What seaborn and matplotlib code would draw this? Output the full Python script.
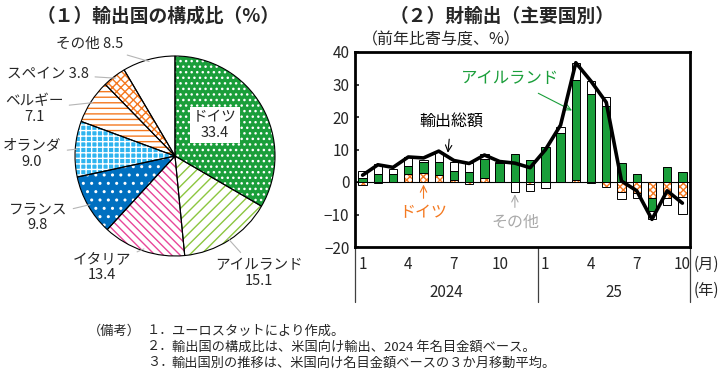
import numpy as np
import pandas as pd
import matplotlib
matplotlib.use('Agg')
import matplotlib.pyplot as plt
import seaborn as sns

sns.set_theme(style='white')
plt.rcParams['font.family'] = ['Noto Sans CJK JP', 'DejaVu Sans']
plt.rcParams['hatch.linewidth'] = 1.0

# (1) pie: share of exports to US by country, 2024
countries = ['ドイツ', 'アイルランド', 'イタリア', 'フランス', 'オランダ', 'ベルギー', 'スペイン', 'その他']
shares = [33.4, 15.1, 13.4, 9.8, 9.0, 7.1, 3.8, 8.5]

# (2) bars: contribution to y/y export growth, 2024/1 - 2025/10
months = [1, 2, 3, 4, 5, 6, 7, 8, 9, 10, 11, 12, 1, 2, 3, 4, 5, 6, 7, 8, 9, 10]
years = ['2024'] * 12 + ['25'] * 10
germany = [-1.0, -0.3, 0.0, 2.5, 2.8, 2.2, 0.5, -0.5, 1.3, 0.0, 0.0, -0.5,
           0.0, 0.0, 0.5, -0.3, -1.5, -3.2, -3.5, -5.0, -5.0, -4.5]
ireland = [1.3, 2.6, 2.6, 2.3, 3.4, 4.0, 2.9, 3.0, 5.8, 6.0, 8.6, 6.9,
           10.7, 15.0, 30.9, 27.1, 23.3, 5.9, 2.4, -4.0, 4.6, 3.0]
others = [2.0, 2.9, 1.5, 3.0, 0.7, 3.0, 2.8, 2.8, 1.4, 0.3, -3.2, -2.4,
          -1.8, 2.0, 5.3, 4.0, 3.0, -2.0, -1.3, -2.5, -2.2, -5.2]
total = [2.1, 5.3, 4.5, 7.7, 7.4, 9.5, 6.6, 5.7, 8.3, 6.3, 5.8, 4.4,
         9.9, 17.5, 36.7, 31.0, 24.5, 0.3, -2.7, -11.5, -2.7, -6.5]

notes = ['ユーロスタットにより作成。',
         '輸出国の構成比は、米国向け輸出、2024 年名目金額ベース。',
         '輸出国別の推移は、米国向け名目金額ベースの３か月移動平均。']

green = '#1a9e3a'
orange = '#f47920'

fig = plt.figure(figsize=(7.25, 3.75), dpi=100)

# ---------------- pie ----------------
axp = fig.add_axes([73/725, 1-258/375, 204/725, 204/375])
pie_faces = [green, 'white', 'white', '#0070c0', '#2fb4ef', 'white', 'white', 'white']
pie_hatches = ['...', '///', '\\\\\\\\', '..', '+++', '---', 'xxxx', '']
pie_hcolors = ['white', '#8cc63f', '#e8479a', 'white', 'white', orange, orange, 'white']

wedges, _ = axp.pie(shares, startangle=90, counterclock=False, radius=1,
                    colors=pie_faces, wedgeprops=dict(linewidth=0))
for w, h, hc in zip(wedges, pie_hatches, pie_hcolors):
    w.set_hatch(h)
    w.set_edgecolor(hc)
axp.pie(shares, startangle=90, counterclock=False, radius=1,
        wedgeprops=dict(fill=False, edgecolor='black', linewidth=0.8))
axp.set_xlim(-1.02, 1.02)
axp.set_ylim(-1.02, 1.02)
axp.set_aspect('equal')
axp.axis('off')

# label positions (text) for each wedge
label_pos = [(0.40, 0.31, 'center'), (0.84, -1.17, 'center'), (-0.73, -1.11, 'center'),
             (-1.37, -0.61, 'center'), (-1.43, 0.02, 'center'), (-1.41, 0.47, 'center'),
             (-0.86, 0.82, 'right'), (-0.52, 1.12, 'right')]
for i, (w, name, val) in enumerate(zip(wedges, countries, shares)):
    tx, ty, ha = label_pos[i]
    if i == 0:
        axp.text(tx, ty, f'{name}\n{val}', ha='center', va='center', fontsize=10.5,
                 linespacing=1.2, bbox=dict(facecolor='white', edgecolor='none', pad=2))
        continue
    ang = np.deg2rad((w.theta1 + w.theta2) / 2)
    xy = (0.98*np.cos(ang), 0.98*np.sin(ang))
    txt = f'{name} {val}' if ha == 'right' else f'{name}\n{val}'
    axp.annotate(txt, xy=xy, xytext=(tx, ty), ha=ha, va='center', fontsize=10.5,
                 linespacing=1.2, annotation_clip=False,
                 arrowprops=dict(arrowstyle='-', color='#b5b5b5', lw=0.8,
                                 shrinkA=2, shrinkB=0))

fig.text(158/725, 1-16/375, '（１）輸出国の構成比（%）', ha='center', va='center',
         fontsize=13.5, fontweight='bold')

# ---------------- bars ----------------
ax = fig.add_axes([355/725, 1-247/375, 335/725, 195/375])
x = np.arange(len(months))
pos_base = np.zeros(len(x))
neg_base = np.zeros(len(x))
series = [(germany, 'white', 'xxxxx', orange),
          (ireland, green, '', green),
          (others, 'white', '', 'white')]
for vals, face, hatch, hc in series:
    vals = np.array(vals)
    bottom = np.where(vals >= 0, pos_base, neg_base)
    ax.bar(x, vals, bottom=bottom, width=0.55, color=face, hatch=hatch,
           edgecolor=hc, linewidth=0, zorder=2)
    ax.bar(x, vals, bottom=bottom, width=0.55, fill=False, edgecolor='black',
           linewidth=0.7, zorder=3)
    pos_base += np.where(vals >= 0, vals, 0)
    neg_base += np.where(vals < 0, vals, 0)

df = pd.DataFrame({'x': x, 'total': total})
sns.lineplot(data=df, x='x', y='total', color='black', linewidth=2.6, ax=ax, zorder=4)
ax.axhline(0, color='black', linewidth=0.8, zorder=1)

ax.set_xlim(-0.5, len(x) - 0.5)
ax.set_ylim(-20, 40)
ax.set_yticks(range(-20, 41, 10))
ax.tick_params(axis='y', direction='in', length=3, labelsize=11, pad=4, left=True)
ax.set_xticks([])
ax.set_xlabel('')
ax.set_ylabel('')
for s in ax.spines.values():
    s.set_linewidth(2)
    s.set_color('black')

trans = ax.get_xaxis_transform()
for xi, m in zip(x, months):
    if m in (1, 4, 7, 10):
        ax.text(xi, -0.09, str(m), transform=trans, ha='center', va='center', fontsize=11)
# year groups
yrs = pd.Series(years)
edges = [-0.5]
for y in yrs.unique():
    idx = np.where(yrs == y)[0]
    ax.text(idx.mean(), -0.235, y, transform=trans, ha='center', va='center', fontsize=11)
    edges.append(idx.max() + 0.5)
for e in edges:
    ax.plot([e, e], [0, -0.28], transform=trans, color='#404040', lw=0.9, clip_on=False)
ax.text(1.012, -0.09, '(月)', transform=ax.transAxes, ha='left', va='center', fontsize=11)
ax.text(1.012, -0.22, '(年)', transform=ax.transAxes, ha='left', va='center', fontsize=11)

ax.text(0.02, 1.06, '（前年比寄与度、%）', transform=ax.transAxes, ha='left', va='center',
        fontsize=11.5)
fig.text(502/725, 1-16/375, '（２）財輸出（主要国別）', ha='center', va='center',
         fontsize=13.5, fontweight='bold')

# callouts
ax.annotate('アイルランド', xy=(13.75, 22), xytext=(9.7, 31.7), color=green, fontsize=11.8,
            ha='center', va='center',
            arrowprops=dict(arrowstyle='->', color=green, lw=0.8, shrinkA=4, shrinkB=0))
ax.annotate('輸出総額', xy=(5.6, 9.0), xytext=(5.8, 18.5), color='black', fontsize=11.5,
            ha='center', va='center',
            arrowprops=dict(arrowstyle='->', color='black', lw=0.8, shrinkA=4, shrinkB=0))
ax.annotate('ドイツ', xy=(4, -0.8), xytext=(4, -9.5), color=orange, fontsize=11.5,
            ha='center', va='center',
            arrowprops=dict(arrowstyle='->', color=orange, lw=0.8, shrinkA=2, shrinkB=0))
ax.annotate('その他', xy=(10, -3.8), xytext=(10, -12.3), color='#aaaaaa', fontsize=11.5,
            ha='center', va='center',
            arrowprops=dict(arrowstyle='->', color='#aaaaaa', lw=0.8, shrinkA=2, shrinkB=0))

# notes
fs = 9.5
fig.text(141/725, 1-331/375, '（備考）', ha='right', va='center', fontsize=fs)
nums = ['１．', '２．', '３．']
for i, (n, t) in enumerate(zip(nums, notes)):
    yy = 1 - (331 + 16*i)/375
    fig.text(147/725, yy, n, ha='left', va='center', fontsize=fs)
    fig.text(172/725, yy, t, ha='left', va='center', fontsize=fs)

fig.savefig('out.png', dpi=100)
